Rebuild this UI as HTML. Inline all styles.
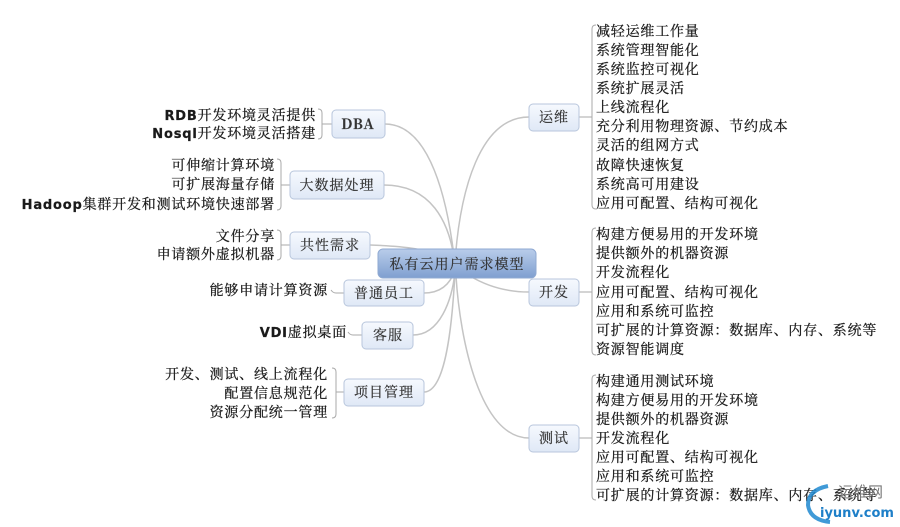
<!DOCTYPE html>
<html><head><meta charset="utf-8"><style>
html,body{margin:0;padding:0;background:#fff;}
svg{display:block;}
.it{font-family:"Noto Serif CJK SC","Liberation Serif",serif;font-size:14px;fill:#1a1a1a;letter-spacing:0.8px;stroke:#1a1a1a;stroke-width:0.25px;}
.lt{font-family:"DejaVu Sans","Noto Serif CJK SC",sans-serif;font-weight:bold;}
.nd{font-family:"Noto Serif CJK SC","Liberation Serif",serif;font-size:14px;fill:#333;letter-spacing:1px;stroke:#333;stroke-width:0.2px;}
</style></head><body>
<svg width="900" height="527" viewBox="0 0 900 527" xmlns="http://www.w3.org/2000/svg">
<defs>
<linearGradient id="g" x1="0" y1="0" x2="0" y2="1"><stop offset="0" stop-color="#f6f9fe"/><stop offset="1" stop-color="#dfe8f6"/></linearGradient>
<linearGradient id="c" x1="0" y1="0" x2="0" y2="1"><stop offset="0" stop-color="#b9cdea"/><stop offset="1" stop-color="#7f9fd0"/></linearGradient>
</defs>
<g fill="none" stroke="#c4c4c4" stroke-width="1.5">
<path d="M385,124 C430,124 448,200 455,265"/>
<path d="M384,185 C430,185 450,220 455,265"/>
<path d="M370,245 C400,246 430,248 455,262"/>
<path d="M424,293 C440,293 450,285 455,270"/>
<path d="M413,335 C440,335 452,300 455,272"/>
<path d="M424,392 C445,392 452,330 455,272"/>
<path d="M529,117 C480,117 460,190 455,262"/>
<path d="M529,292 C505,292 485,285 470,276"/>
<path d="M529,438 C480,438 460,340 456,276"/>
</g>
<g fill="none" stroke="#aaa" stroke-width="1">
<path d="M579,117 H592 M596,25 Q592,25 592,29 V205 Q592,209 596,209"/>
<path d="M579,292 H592 M596,228 Q592,228 592,232 V351 Q592,355 596,355"/>
<path d="M579,438 H592 M596,375 Q592,375 592,379 V496 Q592,500 596,500"/>
<path d="M332,124 H322 M318,109 Q322,109 322,113 V135 Q322,139 318,139"/>
<path d="M290,185 H281 M277,159 Q281,159 281,163 V206 Q281,210 277,210"/>
<path d="M290,245 H281 M277,230 Q281,230 281,234 V256 Q281,260 277,260"/>
<path d="M344,293 H336 Q333,293 331,290"/>
<path d="M362,335 H353 Q350,335 348,332"/>
<path d="M344,392 H336 M332,368 Q336,368 336,372 V414 Q336,418 332,418"/>
</g>
<g stroke="#b8c6dc" stroke-width="1" fill="url(#g)">
<rect x="529" y="104" width="50" height="27" rx="4"/>
<rect x="529" y="279" width="50" height="27" rx="4"/>
<rect x="529" y="425" width="50" height="27" rx="4"/>
<rect x="332" y="110" width="53" height="28" rx="4"/>
<rect x="290" y="171" width="94" height="28" rx="4"/>
<rect x="290" y="232" width="80" height="27" rx="4"/>
<rect x="344" y="280" width="80" height="26" rx="4"/>
<rect x="362" y="322" width="51" height="27" rx="4"/>
<rect x="344" y="379" width="80" height="27" rx="4"/>
</g>
<rect x="378" y="249" width="158" height="29" rx="5" fill="url(#c)" stroke="#8fa9d2"/>
<text x="457" y="269" text-anchor="middle" class="nd" fill="#223">私有云用户需求模型</text>
<text x="554" y="122" text-anchor="middle" class="nd">运维</text>
<text x="554" y="297" text-anchor="middle" class="nd">开发</text>
<text x="554" y="443" text-anchor="middle" class="nd">测试</text>
<text x="358" y="129" text-anchor="middle" class="nd lt" font-size="13">DBA</text>
<text x="337" y="190" text-anchor="middle" class="nd">大数据处理</text>
<text x="330" y="250" text-anchor="middle" class="nd">共性需求</text>
<text x="384" y="298" text-anchor="middle" class="nd">普通员工</text>
<text x="388" y="340" text-anchor="middle" class="nd">客服</text>
<text x="384" y="397" text-anchor="middle" class="nd">项目管理</text>
<g class="it">
<text x="596" y="36">减轻运维工作量</text>
<text x="596" y="55">系统管理智能化</text>
<text x="596" y="74">系统监控可视化</text>
<text x="596" y="93">系统扩展灵活</text>
<text x="596" y="112">上线流程化</text>
<text x="596" y="131">充分利用物理资源、节约成本</text>
<text x="596" y="150">灵活的组网方式</text>
<text x="596" y="170">故障快速恢复</text>
<text x="596" y="189">系统高可用建设</text>
<text x="596" y="208">应用可配置、结构可视化</text>
<text x="596" y="239">构建方便易用的开发环境</text>
<text x="596" y="258">提供额外的机器资源</text>
<text x="596" y="277">开发流程化</text>
<text x="596" y="297">应用可配置、结构可视化</text>
<text x="596" y="316">应用和系统可监控</text>
<text x="596" y="335">可扩展的计算资源：数据库、内存、系统等</text>
<text x="596" y="354">资源智能调度</text>
<text x="596" y="386">构建通用测试环境</text>
<text x="596" y="405">构建方便易用的开发环境</text>
<text x="596" y="424">提供额外的机器资源</text>
<text x="596" y="443">开发流程化</text>
<text x="596" y="462">应用可配置、结构可视化</text>
<text x="596" y="481">应用和系统可监控</text>
<text x="596" y="500">可扩展的计算资源：数据库、内存、系统等</text>
</g>
<g class="it" text-anchor="end">
<text x="316" y="120"><tspan class="lt" font-size="13">RDB</tspan>开发环境灵活提供</text>
<text x="316" y="138"><tspan class="lt" font-size="13">Nosql</tspan>开发环境灵活搭建</text>
<text x="275" y="170">可伸缩计算环境</text>
<text x="275" y="189">可扩展海量存储</text>
<text x="275" y="209"><tspan class="lt" font-size="13">Hadoop</tspan>集群开发和测试环境快速部署</text>
<text x="275" y="241">文件分享</text>
<text x="275" y="259">申请额外虚拟机器</text>
<text x="328" y="295">能够申请计算资源</text>
<text x="347" y="337"><tspan class="lt" font-size="13">VDI</tspan>虚拟桌面</text>
<text x="328" y="379">开发、测试、线上流程化</text>
<text x="328" y="398">配置信息规范化</text>
<text x="328" y="417">资源分配统一管理</text>
</g>
<path d="M828,486 Q808,490 808,505 Q810,520 830,522" fill="none" stroke="#1e88d0" stroke-width="4" opacity="0.85"/>
<text x="838" y="497" font-family="'Noto Sans CJK SC',sans-serif" font-size="15" fill="#777">运维网</text>
<text x="820" y="517" font-family="'DejaVu Sans',sans-serif" font-weight="bold" font-size="13" fill="#1e7fc8">iyunv.com</text>
</svg>
</body></html>
